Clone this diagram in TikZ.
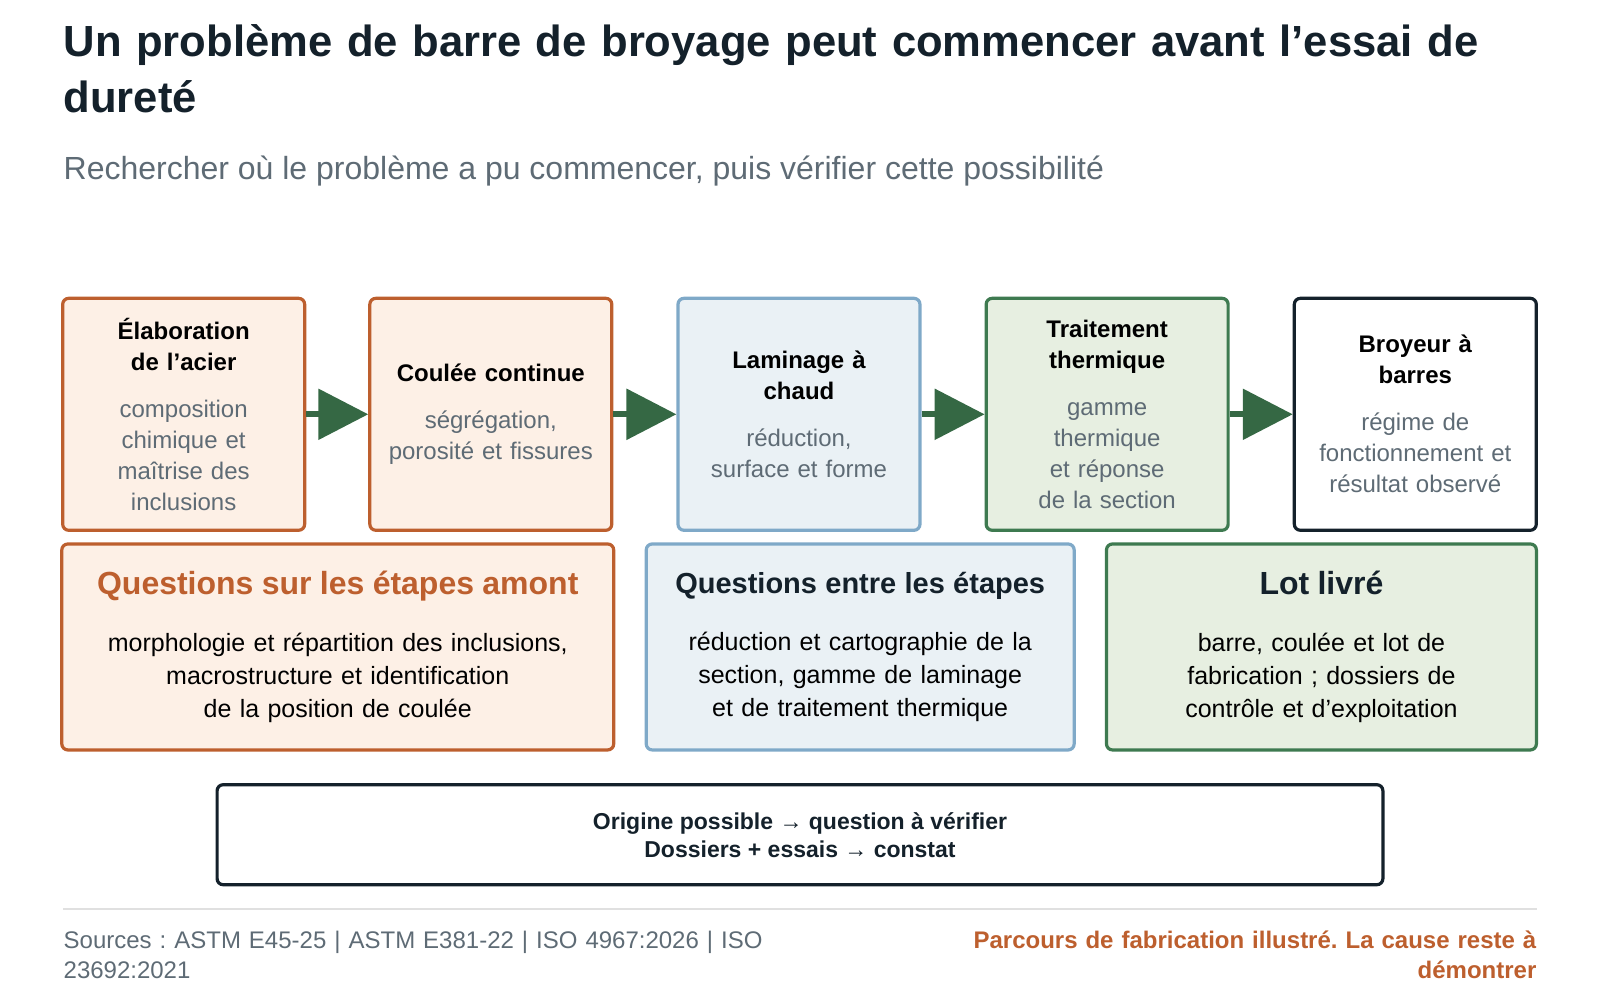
\documentclass[tikz,border=0pt]{standalone}
\usepackage{fontspec}
\setmainfont{Liberation Sans}
\usetikzlibrary{positioning, arrows.meta}
\definecolor{inkdark}{HTML}{14212B}
\definecolor{rustline}{HTML}{BD5F2E}
\definecolor{rustfill}{HTML}{FDF0E6}
\definecolor{skyline}{HTML}{7FA9C8}
\definecolor{skyfill}{HTML}{EAF1F5}
\definecolor{mossline}{HTML}{3E7A50}
\definecolor{mossfill}{HTML}{E7EFE1}
\definecolor{slategray}{HTML}{5E6B75}
\tikzset{
  stage/.style={draw, line width=1.6pt, rounded corners=3pt, minimum width=121pt, minimum height=116pt, align=center, text width=106pt, inner sep=2pt, font=\fontsize{12}{15.5}\selectfont},
  group/.style={draw, line width=1.6pt, rounded corners=3pt, minimum height=103pt, align=center, inner sep=4pt, font=\fontsize{12.5}{16.5}\selectfont},
  flow/.style={-{Triangle[length=25pt,width=25pt]}, line width=3pt, draw=mossline!85!black, fill=mossline!85!black},
}
\newcommand{\stagetext}[2]{\textbf{#1}\\[8pt]{\color{slategray}#2}}
\begin{document}
\frenchspacing\hyphenpenalty=10000\exhyphenpenalty=10000
\begin{tikzpicture}[x=0.5103pt,y=-0.5103pt]
  \useasboundingbox (0,0) rectangle (1568,980);
  % title
  \node[anchor=north west, text width=718pt, font=\fontsize{21.8}{28}\selectfont\bfseries, text=inkdark, inner sep=0pt] (title) at (62,24) {Un problème de barre de broyage peut commencer avant l’essai de dureté};
  \node[anchor=west, font=\fontsize{16}{19}\selectfont, text=slategray, inner sep=0pt] (subtitle) at (62,168) {Rechercher où le problème a pu commencer, puis vérifier cette possibilité};
  % stages
  \node[stage, draw=rustline, fill=rustfill] (steel) at (180,406) {\stagetext{Élaboration de l’acier}{composition chimique et maîtrise des inclusions}};
  \node[stage, draw=rustline, fill=rustfill] (casting) at (481,406) {\stagetext{Coulée continue}{ségrégation, porosité et fissures}};
  \node[stage, draw=skyline, fill=skyfill] (rolling) at (783,406) {\stagetext{Laminage à\\chaud}{réduction,\\surface et forme}};
  \node[stage, draw=mossline, fill=mossfill, text width=92pt] (heat) at (1085,406) {\stagetext{Traitement thermique}{gamme thermique et réponse de la section}};
  \node[stage, draw=inkdark, fill=white] (mill) at (1387,406) {\stagetext{Broyeur à\\barres}{régime de fonctionnement et résultat observé}};
  \foreach \a/\b in {steel/casting, casting/rolling, rolling/heat, heat/mill}
    \draw[flow] (\a.east) -- (\b.west);
  % question groups
  \node[group, draw=rustline, fill=rustfill, minimum width=275pt, text width=268pt] (upstream) at (331,634) {{\fontsize{16}{19}\selectfont\bfseries\color{rustline}Questions sur les étapes amont}\\[12pt]morphologie et répartition des inclusions,\\macrostructure et identification de la position de coulée};
  \node[group, draw=skyline, fill=skyfill, minimum width=210pt, text width=206pt] (between) at (843,634) {{\fontsize{14.5}{19}\selectfont\bfseries\color{inkdark}Questions entre les étapes}\\[12pt]réduction et cartographie de la section, gamme de laminage et de traitement thermique};
  \node[group, draw=mossline, fill=mossfill, minimum width=215pt, text width=160pt] (batch) at (1295,634) {{\fontsize{16}{19}\selectfont\bfseries\color{inkdark}Lot livré}\\[12pt]barre, coulée et lot de fabrication ; dossiers de contrôle et d’exploitation};
  % key
  \node[draw=inkdark, line width=1.6pt, rounded corners=3pt, fill=white, minimum width=583pt, minimum height=50pt, align=center, font=\fontsize{11.5}{14}\selectfont\bfseries, text=inkdark] (key) at (784,818) {Origine possible → question à vérifier\\Dossiers + essais → constat};
  % footer
  \draw[line width=1pt, black!12] (62,891) coordinate (ruleL) -- (1506,891) coordinate (ruleR);
  \node[anchor=north west, text width=380pt, inner sep=0pt, font=\fontsize{12}{15}\selectfont, text=slategray] (sources) at (62,912) {Sources : ASTM E45-25 | ASTM E381-22 | ISO 4967:2026 | ISO 23692:2021};
  \node[anchor=north east, text width=305pt, align=right, inner sep=0pt, font=\fontsize{12}{15}\selectfont\bfseries, text=rustline] (caveat) at (1506,912) {Parcours de fabrication illustré. La cause reste à\\démontrer};
\end{tikzpicture}
\end{document}
